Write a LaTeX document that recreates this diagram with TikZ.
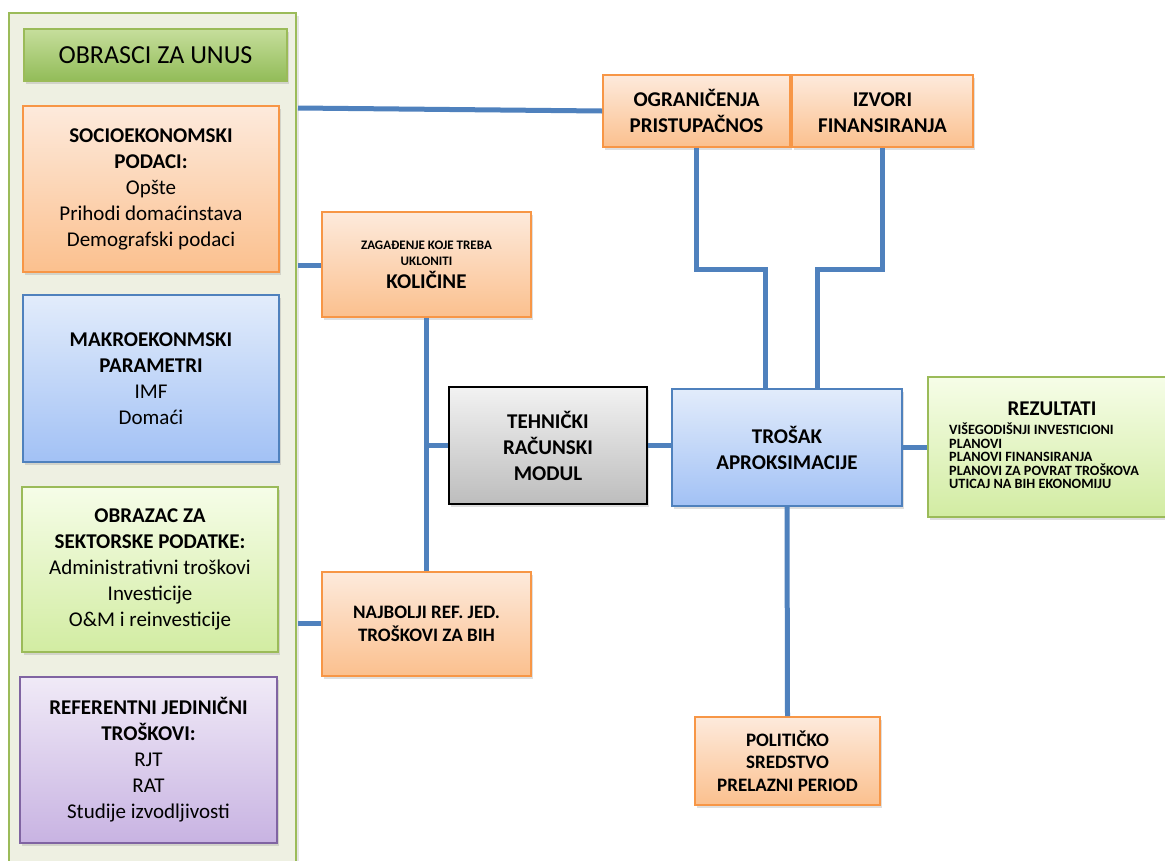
\documentclass[tikz,border=0pt]{standalone}
\usepackage{fontspec}
\setmainfont{Carlito}
\usetikzlibrary{shadows,calc}
\definecolor{conn}{HTML}{4F81BD}
\definecolor{frameFill}{HTML}{EEF0E2}
\definecolor{greenB}{HTML}{9BBB59}
\definecolor{greenT}{HTML}{C6DE9C}
\definecolor{greenBot}{HTML}{92BC58}
\definecolor{orgB}{HTML}{F79646}
\definecolor{orgT}{HTML}{FDEADC}
\definecolor{orgBot}{HTML}{FBC08E}
\definecolor{bluB}{HTML}{4F81BD}
\definecolor{bluT}{HTML}{E2ECFB}
\definecolor{bluBot}{HTML}{A2C1F5}
\definecolor{lgT}{HTML}{F6FDE8}
\definecolor{lgBot}{HTML}{D2ECA2}
\definecolor{purB}{HTML}{8064A2}
\definecolor{purT}{HTML}{F0EAF7}
\definecolor{purBot}{HTML}{C8B3E2}
\definecolor{grayT}{HTML}{F2F2F2}
\definecolor{grayBot}{HTML}{BDBDBD}
\newcommand{\fBig}{\fontsize{26}{30}\selectfont}
\newcommand{\fA}{\fontsize{21}{26}\selectfont}
\newcommand{\fB}{\fontsize{19}{22.5}\selectfont}
\newcommand{\fS}{\fontsize{13}{16}\selectfont}
\newcommand{\fR}{\fontsize{14.2}{13.4}\selectfont}
\tikzset{
  box/.style={draw, line width=1.8pt, inner sep=0pt, align=center,
    drop shadow={opacity=0.25, shadow xshift=2pt, shadow yshift=-3pt}},
  orangebox/.style={box, draw=orgB, top color=orgT, bottom color=orgBot},
  bluebox/.style={box, draw=bluB, top color=bluT, bottom color=bluBot},
  lgreenbox/.style={box, draw=greenB, top color=lgT, bottom color=lgBot},
  greenbox/.style={box, draw=greenB, top color=greenT, bottom color=greenBot},
  purplebox/.style={box, draw=purB, top color=purT, bottom color=purBot},
  graybox/.style={box, draw=black, top color=grayT, bottom color=grayBot},
  framebox/.style={draw=greenB, line width=2pt, fill=frameFill, inner sep=0pt,
    drop shadow={opacity=0.2, shadow xshift=3pt, shadow yshift=-3pt}},
  wire/.style={draw=conn, line width=5pt}
}
\begin{document}
\begin{tikzpicture}[x=1pt,y=-1pt]
\useasboundingbox (0,0) rectangle (1165,860);
\fill[white] (0,0) rectangle (1165,860);

% left frame
\node[framebox, minimum width=287pt, minimum height=880pt] (frame) at (152.5,453) {};
\node[greenbox, minimum width=263pt, minimum height=52pt, font=\fBig] (obrasci) at (155.5,55) {OBRASCI ZA UNUS};
\node[orangebox, minimum width=256pt, minimum height=166pt, font=\fA] (socio) at (151,189)
  {\textbf{SOCIOEKONOMSKI}\\\textbf{PODACI:}\\Opšte\\Prihodi domaćinstava\\Demografski podaci};
\node[bluebox, minimum width=256pt, minimum height=167pt, font=\fA] (makro) at (151,378.5)
  {\textbf{MAKROEKONMSKI}\\\textbf{PARAMETRI}\\IMF\\Domaći};
\node[lgreenbox, minimum width=256pt, minimum height=165pt, font=\fA] (obrazac) at (150,569.5)
  {\textbf{OBRAZAC ZA}\\\textbf{SEKTORSKE PODATKE:}\\Administrativni troškovi\\Investicije\\O\&M i reinvesticije};
\node[purplebox, minimum width=257pt, minimum height=166pt, font=\fA] (referentni) at (148.5,760)
  {\textbf{REFERENTNI JEDINIČNI}\\\textbf{TROŠKOVI:}\\RJT\\RAT\\Studije izvodljivosti};

% middle
\node[orangebox, minimum width=209pt, minimum height=105pt, font=\fS] (kolicine) at (426.5,264.5)
  {\textbf{ZAGAĐENJE KOJE TREBA}\\\textbf{UKLONITI}\\[5pt]{\fA\textbf{KOLIČINE}}};
\node[orangebox, minimum width=209pt, minimum height=104pt, font=\fB] (najbolji) at (426.5,624)
  {\textbf{NAJBOLJI REF. JED.}\\\textbf{TROŠKOVI ZA BIH}};
\node[graybox, minimum width=198pt, minimum height=117pt, font=\fA] (tehnicki) at (548,445.5)
  {\textbf{TEHNIČKI}\\\textbf{RAČUNSKI}\\\textbf{MODUL}};
\node[bluebox, minimum width=230pt, minimum height=117pt, font=\fA] (trosak) at (787,447.5)
  {\textbf{TROŠAK}\\\textbf{APROKSIMACIJE}};
\node[orangebox, minimum width=187pt, minimum height=72pt, font=\fA] (ogran) at (696.5,111)
  {\textbf{OGRANIČENJA}\\\textbf{PRISTUPAČNOS}};
\node[orangebox, minimum width=181pt, minimum height=72pt, font=\fA] (izvori) at (882.5,111)
  {\textbf{IZVORI}\vphantom{\textbf{Č}}\\\textbf{FINANSIRANJA}};
\node[orangebox, minimum width=185pt, minimum height=88pt, font=\fB] (politicko) at (787.5,761)
  {\textbf{POLITIČKO}\\\textbf{SREDSTVO}\\\textbf{PRELAZNI PERIOD}};
\node[lgreenbox, minimum width=244pt, minimum height=140pt] (rezultati) at (1050,447) {};
\node[anchor=base, font=\fA] (reztitle) at (1052,415) {\textbf{REZULTATI}};
\node[anchor=north west, align=left, inner sep=0pt, font=\fR] (rezlist) at (949,423)
  {\textbf{VIŠEGODIŠNJI INVESTICIONI}\\\textbf{PLANOVI}\\\textbf{PLANOVI FINANSIRANJA}\\\textbf{PLANOVI ZA POVRAT TROŠKOVA}\\\textbf{UTICAJ NA BIH EKONOMIJU}};

% connectors
\coordinate (s1) at (298,108);
\coordinate (s2) at (298,265);
\coordinate (s3) at (298,623);
\coordinate (j1) at (765,269);
\coordinate (j2) at (817,269);
\path[wire] (s1) -- (ogran.west);
\path[wire] (s2) -- (s2 -| kolicine.west);
\path[wire] (s3) -- (s3 -| najbolji.west);
\path[wire] (kolicine.south) -- (najbolji.north);
\path[wire] (tehnicki.west -| kolicine.south) -- (tehnicki.west);
\path[wire] (tehnicki.east) -- (tehnicki.east -| trosak.west);
\path[wire] (ogran.south) |- (j1) -- (j1 |- trosak.north);
\path[wire] (izvori.south) |- (j2) -- (j2 |- trosak.north);
\path[wire] (trosak.south) -- (politicko.north);
\path[wire] (trosak.east) -- (trosak.east -| rezultati.west);
\end{tikzpicture}
\end{document}
